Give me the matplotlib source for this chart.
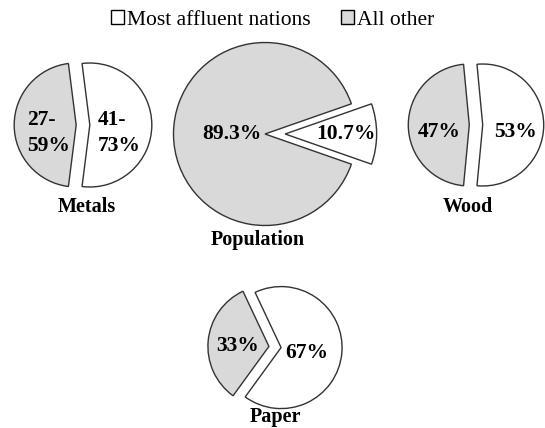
import matplotlib.pyplot as plt
import matplotlib.patches as mpatches
import numpy as np

# Shares drawn in each pie (white = most affluent nations, gray = all other)
names = ["Metals", "Population", "Wood", "Paper"]
white_share = [54, 10.7, 53, 67]
gray_share = [46, 89.3, 47, 33]
white_labels = ["41-\n73%", "10.7%", "53%", "67%"]
gray_labels = ["27-\n59%", "89.3%", "47%", "33%"]

# Layout in pixels (figure is 545 x 428)
W, H = 545, 428
centers = [(83, 125), (265, 134), (476, 125), (275, 347)]
radii = [62, 91.5, 61, 61]
explode = [(0.11, 0.11), (0.22, 0.0), (0.11, 0.11), (0.1, 0.1)]  # fraction of radius
start = [None, None, None, -126]
label_dist = [(0.47, 0.45), (0.66, 0.36), (0.53, 0.50), (0.43, 0.51)]
label_dy = [8, 0, 7, 3]
title_pos = [(87, 207), (258, 240), (468, 207), (275, 417)]

GRAY = "#d9d9d9"
EDGE = "#333333"
FONT = "Liberation Serif"

fig = plt.figure(figsize=(W / 100, H / 100), dpi=100)
ax = fig.add_axes([0, 0, 1, 1])

for i in range(len(names)):
    cx, cy = centers[i][0], H - centers[i][1]
    r = radii[i]
    sa = start[i] if start[i] is not None else -white_share[i] * 3.6 / 2
    wedges, _ = ax.pie([white_share[i], gray_share[i]], colors=["white", GRAY],
                       explode=[e * r for e in explode[i]], startangle=sa,
                       center=(cx, cy), radius=r,
                       wedgeprops=dict(edgecolor=EDGE, linewidth=1.0), frame=True)
    for w, lab, d in zip(wedges, [white_labels[i], gray_labels[i]], label_dist[i]):
        th = np.deg2rad((w.theta1 + w.theta2) / 2)
        vx, vy = w.center
        ax.text(vx + d * r * np.cos(th), vy + d * r * np.sin(th) - label_dy[i], lab,
                ha="center", va="center", multialignment="left", fontsize=15.5,
                fontweight="bold", family=FONT, linespacing=1.45)
    ax.text(title_pos[i][0], H - title_pos[i][1], names[i], ha="center", va="center",
            fontsize=14.5, fontweight="bold", family=FONT)

ax.set_xlim(0, W)
ax.set_ylim(0, H)
ax.set_aspect("equal")
ax.axis("off")

handles = [mpatches.Patch(facecolor="white", edgecolor="black", linewidth=1.0,
                          label="Most affluent nations"),
           mpatches.Patch(facecolor=GRAY, edgecolor="black", linewidth=1.0,
                          label="All other")]
fig.legend(handles=handles, loc="center", bbox_to_anchor=(0.5, 1 - 20 / H), ncol=2,
           frameon=False, prop=dict(family=FONT, size=15.5), handlelength=0.6,
           handleheight=0.6, handletextpad=0.15, columnspacing=1.4)

fig.savefig("out.png", dpi=100)
